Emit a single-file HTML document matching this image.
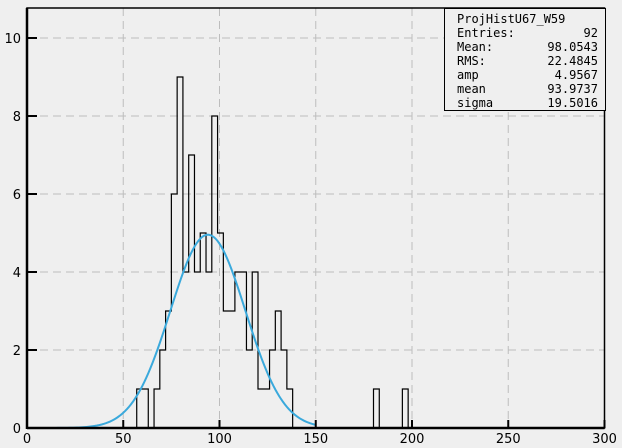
<!DOCTYPE html>
<html><head><meta charset="utf-8"><style>
html,body{margin:0;padding:0;background:#efefef;}
svg{display:block;font-family:"DejaVu Sans","Liberation Sans",sans-serif;}
</style></head><body>
<svg id="chart" width="622" height="448">
<rect width="622" height="448" fill="#efefef"/>
<g id="grid"></g>
<g id="hist"></g>
<g id="fit"></g>
<g id="axes"></g>
<g font-family="'DejaVu Sans Mono','Liberation Mono',monospace" font-size="12" fill="#000">
<rect x="444.5" y="8.5" width="161" height="102" fill="#efefef" stroke="#000"/>
<text x="457" y="23">ProjHistU67_W59</text>
<text x="457" y="37">Entries:</text><text x="598" y="37" text-anchor="end">92</text>
<text x="457" y="51">Mean:</text><text x="598" y="51" text-anchor="end">98.0543</text>
<text x="457" y="65">RMS:</text><text x="598" y="65" text-anchor="end">22.4845</text>
<text x="457" y="79">amp</text><text x="598" y="79" text-anchor="end">4.9567</text>
<text x="457" y="93">mean</text><text x="598" y="93" text-anchor="end">93.9737</text>
<text x="457" y="107">sigma</text><text x="598" y="107" text-anchor="end">19.5016</text>
</g>
</svg>
<script>
const binStarts = [57,60,63,66,69,72,75,78,81,84,87,90,93,96,99,102,105,108,111,114,117,120,123,126,129,132,135,180,195];
const binCounts = [1,1,0,1,2,3,6,9,4,7,4,5,4,8,5,3,3,4,4,2,4,1,1,2,3,2,1,1,1];
const binWidth = 3;
const xTicks = [0,50,100,150,200,250,300];
const yTicks = [0,2,4,6,8,10];
const fitAmp = 4.9567, fitMean = 93.9737, fitSigma = 19.5016;
const fitRange = [0,150];

const X0=27,X1=604.5,Y0=428,YT=8;
const sx=v=>X0+(v-0)/300*(X1-X0);
const sy=v=>Y0-v*39;
const NS='http://www.w3.org/2000/svg';
function mk(tag,attrs,parent){const e=document.createElementNS(NS,tag);for(const k in attrs)e.setAttribute(k,attrs[k]);parent.appendChild(e);return e;}
const grid=document.getElementById('grid'),hist=document.getElementById('hist'),fit=document.getElementById('fit'),axes=document.getElementById('axes');
xTicks.forEach(t=>{if(t>0&&t<300){const l=mk('line',{x1:sx(t),x2:sx(t),y1:YT,y2:Y0,stroke:'#bdbdbd','stroke-dasharray':'8,5'},grid);

}});
yTicks.forEach(t=>{if(t>0){const l=mk('line',{x1:X0,x2:X1,y1:sy(t),y2:sy(t),stroke:'#bdbdbd','stroke-dasharray':'8,5'},grid);

}});
// histogram step outline over full range
const nb=Math.round(300/binWidth);
const counts=new Array(nb).fill(0);
binStarts.forEach((s,i)=>{counts[Math.round(s/binWidth)]=binCounts[i];});
let hd='M'+sx(0)+','+sy(counts[0]);
for(let i=0;i<nb;i++){
  if(i>0&&counts[i]!==counts[i-1]) hd+='V'+sy(counts[i]);
  hd+='H'+sx((i+1)*binWidth);
}
const hp=mk('path',{d:hd,fill:'none',stroke:'#000','stroke-width':1.2},hist);


// fit
let d='';
for(let v=fitRange[0];v<=fitRange[1];v+=1){const y=fitAmp*Math.exp(-0.5*((v-fitMean)/fitSigma)**2);d+=(d?'L':'M')+sx(v).toFixed(2)+','+sy(y).toFixed(2);}
const fp=mk('path',{d:d,fill:'none',stroke:'#3aa9dc','stroke-width':2},fit);


// frame
const fr=mk('rect',{x:X0,y:YT,width:X1-X0,height:Y0-YT,fill:'none',stroke:'#000','stroke-width':1.5},axes);


mk('line',{x1:X0,x2:X0,y1:YT,y2:Y0+1,stroke:'#000','stroke-width':2.5},axes);
mk('line',{x1:X0,x2:X1,y1:Y0,y2:Y0,stroke:'#000','stroke-width':2.5},axes);
xTicks.forEach(t=>{
  mk('line',{x1:sx(t),x2:sx(t),y1:Y0,y2:Y0-8,stroke:'#000','stroke-width':2},axes);
  const tx=mk('text',{x:sx(t),y:443,'text-anchor':'middle','font-size':13},axes);tx.textContent=t;
  
  
});
yTicks.forEach(t=>{
  mk('line',{x1:X0,x2:X0+10,y1:sy(t),y2:sy(t),stroke:'#000','stroke-width':2},axes);
  const tx=mk('text',{x:21,y:sy(t)+5,'text-anchor':'end','font-size':13},axes);tx.textContent=t;
  
  
});
</script>
</body></html>
